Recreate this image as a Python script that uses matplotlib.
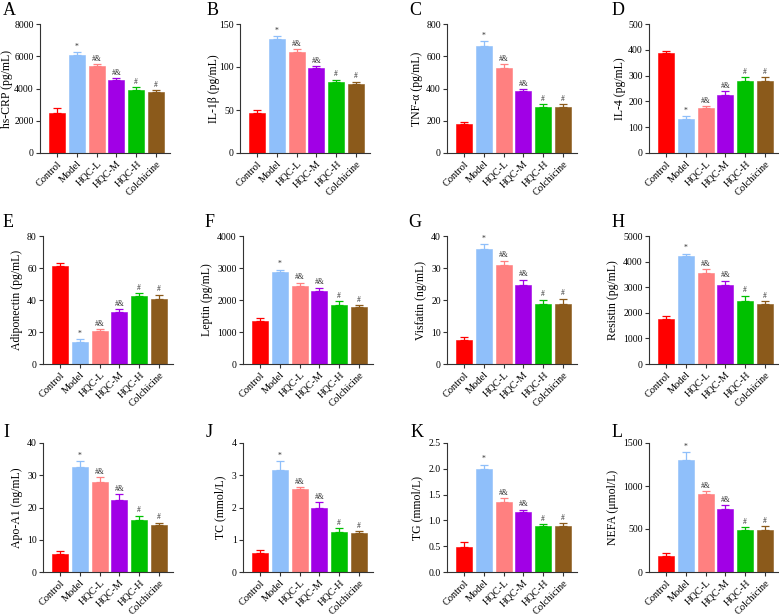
import numpy as np
import matplotlib
matplotlib.use("Agg")
import matplotlib.pyplot as plt

plt.rcParams['font.family'] = ['Liberation Serif', 'DejaVu Serif']

groups = ['Control', 'Model', 'HQC-L', 'HQC-M', 'HQC-H', 'Colchicine']
colors = ['#FF0000', '#8FBFFA', '#FF8080', '#A100E6', '#00C000', '#8B5A1B']
signs = ['', '*', '#&', '#&', '#', '#']

# means and upper error bars
crp_mean = [2510, 6050, 5390, 4530, 3900, 3800]
crp_err = [250, 210, 120, 100, 170, 110]
il1b_mean = [46.7, 132.5, 117, 98.5, 83, 80]
il1b_err = [2.8, 3.5, 4, 2.5, 2.2, 3]
tnf_mean = [181, 661, 528, 383, 287, 287]
tnf_err = [14, 31, 21, 12, 14, 14]
il4_mean = [387, 130, 173, 226, 279, 279]
il4_err = [10, 13, 9, 14, 15, 15]
adipo_mean = [61, 13.7, 20.6, 32.4, 42.2, 40.5]
adipo_err = [2, 1.7, 1.4, 1.9, 2.3, 2.9]
leptin_mean = [1340, 2868, 2431, 2296, 1839, 1766]
leptin_err = [104, 82, 114, 94, 125, 84]
visf_mean = [7.6, 35.9, 30.9, 24.7, 18.9, 18.9]
visf_err = [0.7, 1.5, 1.4, 1.7, 1.2, 1.5]
resis_mean = [1753, 4208, 3571, 3104, 2480, 2350]
resis_err = [130, 104, 143, 156, 195, 118]
apoa1_mean = [5.7, 32.7, 27.9, 22.3, 16.1, 14.5]
apoa1_err = [0.9, 1.6, 1.5, 1.8, 1.4, 0.8]
tc_mean = [0.6, 3.16, 2.58, 1.97, 1.25, 1.2]
tc_err = [0.09, 0.28, 0.05, 0.19, 0.1, 0.06]
tg_mean = [0.49, 1.99, 1.36, 1.16, 0.90, 0.90]
tg_err = [0.09, 0.09, 0.07, 0.05, 0.03, 0.04]
nefa_mean = [183, 1305, 904, 736, 491, 483]
nefa_err = [43, 90, 35, 39, 27, 47]

panels = [
    ('A', 'hs-CRP (pg/mL)', crp_mean, crp_err, 8000, 2000, '%d'),
    ('B', 'IL-1\u03b2 (pg/mL)', il1b_mean, il1b_err, 150, 50, '%d'),
    ('C', 'TNF-\u03b1 (pg/mL)', tnf_mean, tnf_err, 800, 200, '%d'),
    ('D', 'IL-4 (pg/mL)', il4_mean, il4_err, 500, 100, '%d'),
    ('E', 'Adiponectin (pg/mL)', adipo_mean, adipo_err, 80, 20, '%d'),
    ('F', 'Leptin (pg/mL)', leptin_mean, leptin_err, 4000, 1000, '%d'),
    ('G', 'Visfatin (ng/mL)', visf_mean, visf_err, 40, 10, '%d'),
    ('H', 'Resistin (pg/mL)', resis_mean, resis_err, 5000, 1000, '%d'),
    ('I', 'Apo-A1 (ng/mL)', apoa1_mean, apoa1_err, 40, 10, '%d'),
    ('J', 'TC (mmol/L)', tc_mean, tc_err, 4, 1, '%d'),
    ('K', 'TG (mmol/L)', tg_mean, tg_err, 2.5, 0.5, '%.1f'),
    ('L', 'NEFA (\u03bcmol/L)', nefa_mean, nefa_err, 1500, 500, '%d'),
]

W, H = 779, 615
fig = plt.figure(figsize=(W / 100, H / 100), dpi=100)

# axes boxes in pixels: left, top, bottom
lefts = [[40, 240, 447, 649], [43, 243, 447, 649], [43, 243, 447, 649]]
tops = [24, 236, 443]
bottoms = [153, 364, 572]
# y-label centre, pixels left of the axis
label_off = [[33, 26, 30, 29], [26, 36, 26, 36], [26, 23, 30, 36]]
letter_x = [[3, 207, 409, 612], [3, 205, 408, 612], [3, 206, 411, 612]]
letter_y = [2, 214, 424]
ax_w = 130

x = np.arange(len(groups))
for i, (letter, ylabel, mean, err, ymax, step, fmt) in enumerate(panels):
    r, c = divmod(i, 4)
    l = lefts[r][c]
    ax = fig.add_axes([l / W, 1 - bottoms[r] / H, ax_w / W,
                       (bottoms[r] - tops[r]) / H])
    for j in range(len(groups)):
        ax.bar(x[j], mean[j], width=0.8, color=colors[j], edgecolor=colors[j],
               linewidth=0.4, zorder=2)
        ax.errorbar(x[j], mean[j], yerr=[[0], [err[j]]], fmt='none',
                    ecolor=colors[j], elinewidth=0.9, capsize=3, capthick=0.9,
                    zorder=1)
        if signs[j]:
            ax.text(x[j], mean[j] + err[j] + ymax * 0.01, signs[j],
                    ha='center', va='bottom', fontsize=5.5, color='#333333')
    ax.set_ylim(0, ymax)
    ax.set_xlim(-0.85, 5.7)
    ax.set_yticks(np.arange(0, ymax + step / 2, step))
    ax.yaxis.set_major_formatter(matplotlib.ticker.FormatStrFormatter(fmt))
    ax.set_xticks(x)
    ax.set_xticklabels(groups, rotation=45, ha='right', rotation_mode='anchor',
                       fontsize=7.5)
    ax.tick_params(axis='y', labelsize=7, length=3, width=0.8, pad=1.5,
                   color='#333333')
    ax.tick_params(axis='x', length=3, width=0.8, pad=1.5, color='#333333')
    ax.set_ylabel(ylabel, fontsize=8.5)
    ax.yaxis.set_label_coords(-label_off[r][c] / ax_w, 0.5)
    ax.yaxis.label.set_va('center')
    for s in ['top', 'right']:
        ax.spines[s].set_visible(False)
    for s in ['left', 'bottom']:
        ax.spines[s].set_linewidth(0.8)
        ax.spines[s].set_color('#333333')
    fig.text(letter_x[r][c] / W, 1 - letter_y[r] / H, letter, fontsize=13,
             ha='left', va='top')

fig.savefig('out.png', dpi=100)
